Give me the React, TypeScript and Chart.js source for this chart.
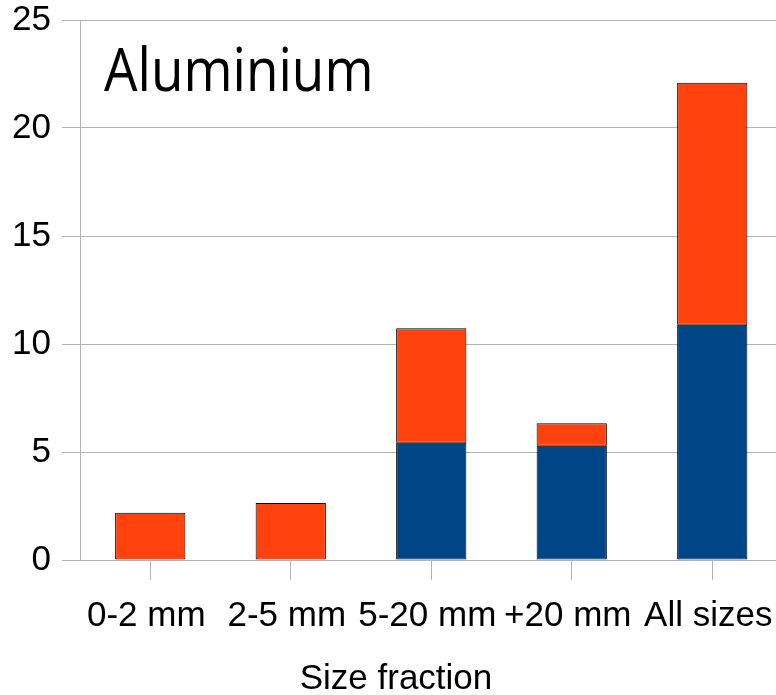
import React, { useEffect, useRef } from "react";
import { Chart, registerables } from "chart.js";

Chart.register(...registerables);

const CHART_TITLE = "Aluminium";
const X_TITLE = "Size fraction";
const categories = ["0-2 mm", "2-5 mm", "5-20 mm", "+20 mm", "All sizes"];
const blueValues = [0, 0, 5.43, 5.29, 10.89];
const orangeValues = [2.19, 2.64, 5.3, 1.04, 11.21];
const yTicks = [0, 5, 10, 15, 20, 25];

const BLUE = "#004586";
const ORANGE = "#ff420e";
const GRID = "#b3b3b3";

const textPlugin = {
  id: "textPlugin",
  afterDraw(chart: any) {
    const ctx = chart.ctx;
    ctx.save();
    ctx.font = '52px "Open Sans"';
    ctx.fillStyle = "#000";
    ctx.textBaseline = "alphabetic";
    ctx.textAlign = "left";
    ctx.translate(chart.chartArea.left + 24, 91);
    ctx.scale(1.02, 1.16);
    ctx.fillText(CHART_TITLE, 0, 0);
    ctx.restore();

    ctx.save();
    ctx.font = '35px "Liberation Sans"';
    ctx.fillStyle = "#000";
    ctx.textBaseline = "alphabetic";
    ctx.textAlign = "center";
    ctx.fillText(X_TITLE, (chart.width + 2) / 2, 689);
    ctx.restore();
  },
};

export default function App() {
  const ref = useRef<HTMLCanvasElement>(null);
  useEffect(() => {
    if (!ref.current) return;
    const chart = new Chart(ref.current, {
      type: "bar",
      data: {
        labels: categories,
        datasets: [
          {
            data: blueValues,
            backgroundColor: BLUE,
            borderColor: "#000",
            borderWidth: 1,
            borderSkipped: false,
            barPercentage: 0.5,
            categoryPercentage: 1,
          },
          {
            data: orangeValues,
            backgroundColor: ORANGE,
            borderColor: "#000",
            borderWidth: 1,
            borderSkipped: false,
            barPercentage: 0.5,
            categoryPercentage: 1,
          },
        ],
      },
      options: {
        responsive: false,
        animation: false,
        devicePixelRatio: 1,
        layout: { padding: { top: 20, right: 7.5, bottom: 0, left: 0 } },
        plugins: { legend: { display: false }, tooltip: { enabled: false }, title: { display: false } },
        scales: {
          x: {
            stacked: true,
            grid: {
              offset: false,
              drawOnChartArea: false,
              drawTicks: true,
              tickLength: 20,
              tickColor: GRID,
              color: GRID,
            },
            border: { display: true, color: GRID },
            ticks: {
              color: "#000",
              font: { family: "Liberation Sans", size: 35 },
              padding: 15,
              labelOffset: -4,
              maxRotation: 0,
              autoSkip: false,
            },
            title: { display: false },
            afterFit(scale: any) {
              scale.height = 135;
              scale.paddingLeft = 0;
              scale.paddingRight = 0;
            },
          },
          y: {
            stacked: true,
            min: 0,
            max: 25,
            afterBuildTicks(scale: any) {
              scale.ticks = yTicks.map((v) => ({ value: v }));
            },
            grid: { color: GRID, tickLength: 18, tickColor: GRID },
            border: { display: true, color: GRID },
            ticks: {
              color: "#000",
              font: { family: "Liberation Sans", size: 35 },
              padding: 11,
            },
            afterFit(scale: any) {
              scale.width = 80;
              scale.paddingTop = 0;
              scale.paddingBottom = 0;
            },
          },
        },
      },
      plugins: [textPlugin],
    });
    return () => chart.destroy();
  }, []);
  return (
    <div style={{ position: "fixed", left: 0, top: 0, width: 776, height: 695, overflow: "hidden", background: "#fff" }}>
      <canvas ref={ref} width={790} height={695} style={{ width: 790, height: 695, display: "block" }} />
    </div>
  );
}
